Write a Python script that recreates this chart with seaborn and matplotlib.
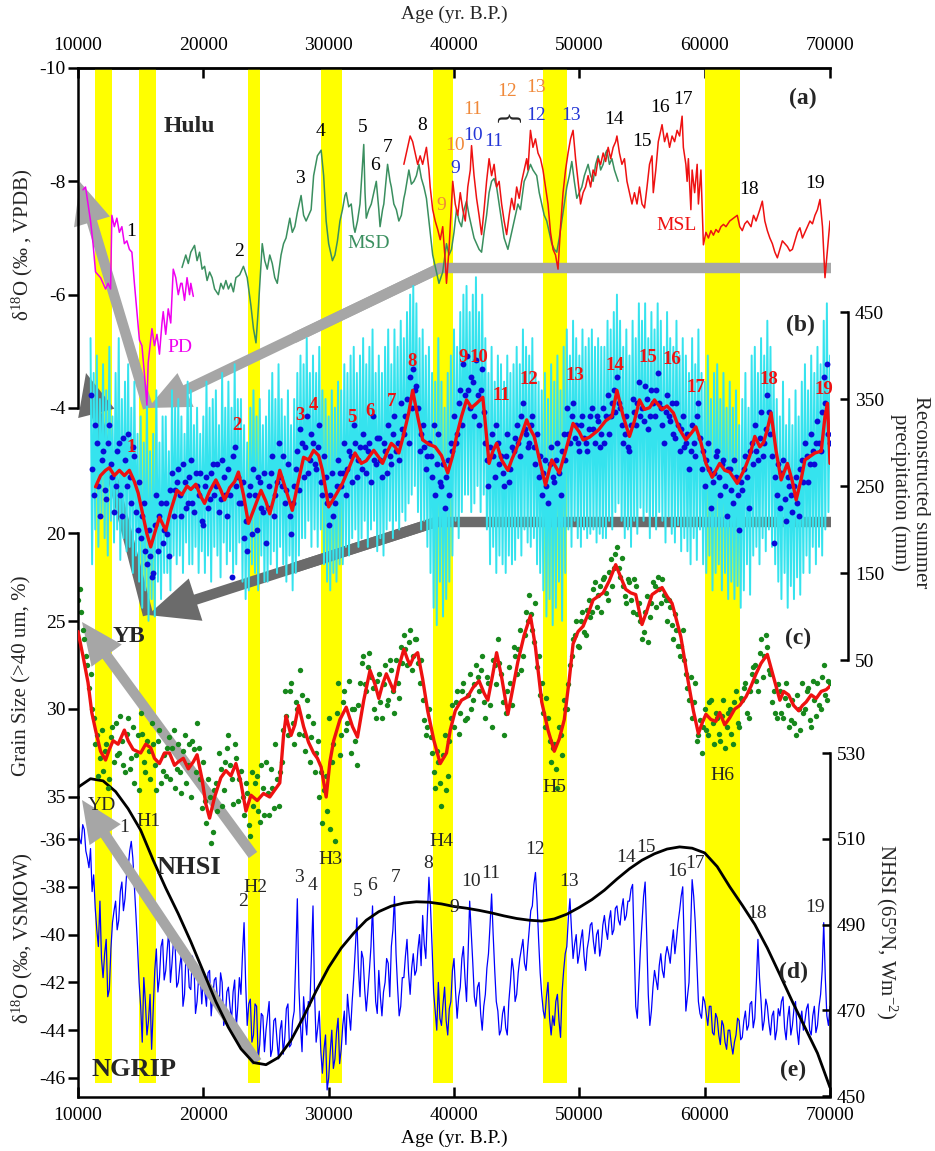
import numpy as np
import pandas as pd
import matplotlib
matplotlib.use("Agg")
import matplotlib.pyplot as plt
import seaborn as sns
from matplotlib.patches import FancyArrowPatch, ArrowStyle
from matplotlib.lines import Line2D

# ---------------------------------------------------------------- data
x_ticks = [10000, 20000, 30000, 40000, 50000, 60000, 70000]
band_start = [11360, 14850, 23570, 29400, 38300, 47100, 60020]
band_end = [12720, 16200, 24540, 31050, 39930, 49050, 62820]

# (a) Hulu speleothem d18O (age, permil VPDB)
pd_curve = [(10400,-7.85),(10600,-7.9),(10800,-7.6),(11000,-7.3),(11200,-6.9),(11400,-6.4),(11600,-6.35),
    (11800,-6.3),(12000,-6.2),(12200,-6.1),(12400,-6.2),(12600,-6.1),(12700,-7.4),(12900,-7.2),(13100,-7.35),
    (13300,-7.1),(13500,-7.2),(13700,-6.9),(13900,-6.95),(14100,-6.8),(14300,-6.75),(14500,-6.2),(14700,-5.7),
    (14900,-5.2),(15100,-5.1),(15300,-4.6),(15500,-4.05),(15600,-4.8),(15800,-5.2),(15900,-5.4),(16100,-5.1),
    (16300,-5.3),(16500,-4.95),(16700,-5.5),(16800,-5.7),(17000,-5.3),(17200,-5.75),(17400,-5.5),(17600,-6.45),
    (17800,-6.3),(18000,-6.0),(18200,-6.2),(18300,-6.2),(18500,-5.9),(18700,-6.3),(18900,-6.0),(19000,-6.2),(19200,-5.97)]
msd_curve = [(18300,-6.48),(18600,-6.7),(18800,-6.55),(19000,-6.75),(19300,-6.87),(19500,-6.6),(19700,-6.75),
    (19900,-6.45),(20100,-6.5),(20300,-6.25),(20500,-6.4),(20700,-6.3),(20900,-6.1),(21200,-6.0),(21400,-6.2),
    (21600,-6.1),(21800,-6.25),(22000,-6.1),(22200,-6.2),(22400,-6.05),(22600,-6.3),(22900,-6.35),(23200,-6.5),
    (23500,-6.3),(23800,-5.8),(24000,-5.4),(24200,-5.15),(24400,-5.8),(24700,-6.9),(24900,-6.6),(25100,-6.45),
    (25300,-6.7),(25500,-6.55),(25700,-6.3),(25900,-6.2),(26200,-6.7),(26400,-6.9),(26600,-7.0),(26900,-7.35),
    (27100,-7.1),(27300,-7.2),(27500,-7.45),(27800,-7.75),(28000,-7.4),(28200,-7.3),(28400,-7.4),(28600,-7.5),
    (28800,-8.1),(29100,-8.45),(29400,-8.55),(29600,-8.1),(29800,-7.3),(30000,-6.9),(30300,-6.6),(30500,-6.7),
    (30700,-6.95),(30900,-7.3),(31100,-7.5),(31300,-7.75),(31400,-7.8),(31600,-7.55),(31800,-7.6),(32000,-7.2),
    (32100,-7.1),(32300,-7.3),(32500,-7.6),(32800,-8.65),(32900,-7.8),(33000,-7.35),(33200,-7.5),(33400,-7.6),
    (33600,-7.8),(33800,-8.0),(34000,-7.5),(34100,-7.2),(34300,-7.5),(34400,-7.6),(34700,-8.3),(34900,-8.0),
    (35000,-7.9),(35200,-7.6),(35400,-7.5),(35600,-7.3),(35800,-7.4),(36000,-7.7),(36100,-7.8),(36400,-8.2),
    (36600,-7.95),(36800,-8.0),(37000,-8.1),(37200,-8.3),(37400,-8.05),(37600,-7.9),(37800,-7.7),(38000,-7.3),
    (38300,-6.7),(38600,-6.4),(38800,-6.2),(39100,-6.4),(39400,-6.9),(39600,-6.7),(39800,-6.8),(40000,-7.1),
    (40200,-7.5),(40400,-7.3),(40600,-7.2),(40800,-7.5),(41000,-7.65),(41200,-7.4),(41400,-7.2),(41600,-7.0),
    (41800,-6.9),(42000,-6.8),(42200,-6.75),(42400,-7.1),(42600,-7.4),(42800,-7.8),(43000,-8.0),(43200,-8.05),
    (43400,-7.9),(43600,-7.6),(43800,-7.3),(44000,-7.0),(44300,-6.8),(44500,-7.0),(44700,-7.2),(44900,-7.4),
    (45100,-7.6),(45300,-7.5),(45600,-8.0),(45800,-8.1),(46100,-8.3),(46300,-8.2),(46600,-8.1),(46800,-7.8),
    (47000,-7.6),(47200,-7.4),(47400,-7.3),(47600,-7.1),(47800,-6.9),(48000,-6.8),(48200,-6.75),(48400,-7.0),
    (48600,-7.3),(48800,-7.6),(49000,-7.9),(49200,-8.1),(49400,-8.35),(49600,-8.0),(49800,-7.7),(50000,-7.8),
    (50200,-7.9),(50400,-8.1),(50700,-8.3),(50900,-8.1),(51100,-8.0),(51300,-8.3),(51500,-8.45),(51700,-8.2),
    (51900,-8.3),(52100,-8.5),(52200,-8.55),(52400,-8.3),(52600,-8.4),(52800,-8.2),(53100,-8.0)]
msl_curve = [(36000,-8.3),(36200,-8.5),(36500,-8.8),(36700,-8.7),(36900,-8.5),(37100,-8.3),(37300,-8.45),
    (37500,-8.3),(37800,-8.6),(38000,-8.2),(38100,-7.9),(38300,-7.5),(38500,-7.3),(38700,-7.15),(38900,-6.97),
    (39100,-7.2),(39300,-6.6),(39400,-6.2),(39600,-6.8),(39800,-7.6),(39900,-8.0),(40100,-7.6),(40300,-7.4),
    (40500,-7.8),(40700,-7.5),(40900,-7.3),(41100,-7.9),(41300,-8.2),(41400,-8.63),(41600,-8.1),(41800,-7.7),
    (42000,-7.4),(42200,-7.06),(42400,-7.5),(42600,-8.0),(42800,-8.4),(43000,-8.1),(43200,-8.3),(43400,-7.9),
    (43600,-8.0),(43800,-7.6),(44000,-7.3),(44200,-7.06),(44400,-7.4),(44600,-7.7),(44800,-7.5),(45000,-7.9),
    (45200,-7.7),(45400,-8.0),(45600,-8.2),(45800,-8.4),(45900,-8.2),(46100,-8.9),(46300,-8.6),(46500,-8.75),
    (46700,-8.5),(46900,-8.4),(47100,-8.2),(47300,-7.9),(47500,-7.6),(47700,-7.1),(47900,-6.8),(48100,-6.7),
    (48300,-6.45),(48500,-7.2),(48700,-7.8),(48900,-8.2),(49100,-8.5),(49300,-8.75),(49500,-8.9),(49700,-8.4),
    (49900,-8.0),(50100,-7.6),(50300,-7.8),(50500,-7.9),(50700,-8.1),(50900,-7.9),(51100,-8.2),(51300,-8.1),
    (51500,-8.4),(51700,-8.3),(51900,-8.5),(52100,-8.35),(52300,-8.6),(52500,-8.4),(52700,-8.6),(52900,-8.7),
    (53000,-8.8),(53200,-8.5),(53400,-8.3),(53600,-8.4),(53800,-8.0),(54000,-7.8),(54200,-7.6),(54400,-7.8),
    (54600,-7.6),(54800,-7.9),(55000,-7.6),(55200,-7.53),(55400,-7.9),(55600,-8.3),(55800,-8.45),(55900,-7.8),
    (56100,-8.2),(56300,-8.7),(56500,-8.9),(56600,-9.0),(56800,-8.7),(57000,-8.85),(57200,-8.6),(57400,-8.8),
    (57600,-8.7),(57800,-8.9),(58000,-8.8),(58200,-9.15),(58300,-8.6),(58500,-8.3),(58600,-8.0),(58700,-8.4),
    (58900,-7.5),(59000,-8.2),(59200,-7.8),(59400,-8.3),(59500,-7.6),(59700,-8.2),(59900,-6.88),(60100,-7.1),
    (60300,-7.0),(60500,-7.13),(60700,-7.05),(60900,-7.15),(61100,-7.1),(61300,-7.2),(61500,-7.24),(61700,-7.2),
    (62000,-7.3),(62300,-7.35),(62600,-7.4),(62800,-7.2),(63000,-7.13),(63200,-7.25),(63400,-7.3),(63700,-7.2),
    (63900,-7.4),(64100,-7.3),(64400,-7.5),(64600,-7.65),(64800,-7.3),(65000,-7.13),(65200,-7.0),(65400,-6.9),
    (65600,-6.75),(65800,-6.65),(66000,-6.8),(66200,-6.95),(66400,-6.9),(66600,-6.85),(66800,-6.77),(67000,-6.8),
    (67200,-6.95),(67400,-7.1),(67600,-7.18),(67800,-7.0),(68000,-7.1),(68200,-7.2),(68400,-7.3),(68600,-7.25),
    (68800,-7.4),(69000,-7.5),(69200,-7.68),(69400,-7.2),(69600,-6.3),(69800,-6.8),(70000,-7.3)]

# (b) reconstructed summer precipitation, mm (samples every 250 yr from 11000, second set offset by 125 yr)
prec_first, prec_step = 11000, 250
prec_dots = [355,240,300,215, 290,235,320,260, 250,300,215,280, 310,230,285,200, 190,230,160,170,
    150,240,215,185, 230,170,265,245, 270,215,255,230, 280,220,250,265, 205,260,235,275,
    250,220,280,240, 270,145,295,260, 230,190,175,250, 270,200,255,220, 185,250,285,240,
    300,250,230,275, 195,250,290,315, 260,330,280,300, 270,320,240,260, 205,265,230,280,
    250,300,270,285, 320,260,295,310, 265,300,330,275, 305,260,290,320, 275,330,300,345,
    310,350,375,385, 365,290,320,270, 300,260,240,310, 250,225,280,300, 330,310,360,390,
    400,340,370,395, 320,385,300,250, 310,260,300,285, 250,310,270,290, 320,285,345,310,
    300,330,275,260, 240,280,230,295, 255,300,240,310, 340,300,345,320, 290,330,300,315,
    340,300,325,310, 300,355,330,360, 375,340,300,330, 290,350,320,370, 340,365,315,360,
    330,380,340,300, 355,325,310,345, 290,330,300,270, 320,285,345,270, 250,300,225,265,
    290,240,280,215, 270,230,260,200, 245,285,225,300, 320,280,335,300, 355,310,185,240,
    225,280,210,250, 220,260,215,280, 300,255,310,275, 325,290,375,390, 300]
prec_dots2 = [270,320,250,280, 245,300,275,220, 290,240,305,250, 260,295,220,255, 215,175,200,145,
    205,175,230,200, 195,245,215,255, 240,275,225,260, 230,265,240,210, 250,225,265,240,
    275,235,260,215, 240,285,250,230, 255,210,240,195, 240,260,225,265, 225,265,215,255,
    260,285,245,215, 230,270,245,300, 295,265,310,275, 295,255,285,230, 240,215,250,265,
    265,240,290,255, 300,280,270,295, 290,255,280,305, 280,300,265,285, 310,290,280,315,
    330,300,340,360, 340,310,295,285, 285,320,275,255, 275,260,240,290, 300,345,320,355,
    360,375,330,355, 360,335,280,295, 285,320,275,265, 285,255,295,305, 300,330,315,295,
    320,295,310,285, 265,250,275,260, 280,265,290,280, 310,330,305,300, 320,305,290,330,
    315,330,295,340, 330,310,345,335, 345,320,310,295, 320,335,345,330, 325,350,330,345,
    360,345,320,335, 330,345,305,320, 315,295,310,290, 300,330,305,290, 280,270,255,285,
    260,275,250,270, 245,280,240,255, 270,260,290,275, 290,305,285,315, 335,285,260,275,
    265,235,260,240, 250,230,270,255, 285,275,290,300, 300,335,345,310]
prec_hi = [420,380,400,350, 390,360,410,330, 380,420,350,370, 390,340,370,310, 330,300,350,290,
    310,360,300,330, 330,290,360,340, 350,330,310,370, 360,320,340,310, 330,370,340,350,
    360,320,380,340, 370,340,390,350, 350,320,300,340, 360,330,350,320, 330,360,380,350,
    390,350,330,360, 320,350,380,400, 390,420,380,400, 380,410,360,350, 330,360,340,370,
    360,390,380,400, 410,380,400,420, 390,410,430,380, 400,380,410,430, 390,430,410,440,
    420,450,470,480, 460,420,430,400, 410,380,370,420, 370,340,380,400, 430,410,450,470,
    480,450,470,490, 450,470,420,380, 410,370,400,390, 370,400,380,390, 410,390,430,410,
    400,420,380,370, 360,380,350,390, 370,400,360,410, 430,400,440,420, 400,430,410,420,
    430,410,420,410, 410,440,430,450, 470,440,410,430, 400,440,420,460, 440,460,420,450,
    430,460,440,410, 450,420,410,440, 400,420,400,380, 420,390,430,380, 370,400,350,380,
    390,350,380,340, 370,340,360,320, 350,380,340,400, 410,380,420,400, 440,410,380,350,
    330,370,320,350, 320,360,330,370, 390,360,400,380, 410,390,440,460, 400]
prec_lo = [160,200,180,215, 190,170,210,185, 200,165,190,175, 180,150,170,140, 110,130,95,120,
    100,140,120,150, 150,130,170,160, 170,150,185,160, 160,180,150,175, 150,170,140,180,
    170,145,185,160, 175,150,160,185, 140,120,130,160, 150,130,170,140, 140,160,175,150,
    180,160,140,170, 130,150,170,190, 190,210,180,200, 180,200,160,140, 130,150,140,160,
    160,180,170,190, 200,180,190,210, 180,200,210,175, 190,170,200,210, 190,210,200,220,
    210,230,240,250, 220,200,210,180, 150,110,90,140, 100,120,140,170, 210,190,220,240,
    240,220,230,250, 220,240,200,160, 180,150,170,160, 150,170,160,165, 190,170,200,185,
    180,190,160,150, 130,100,120,90, 110,140,95,150, 200,180,210,190, 180,200,190,195,
    200,185,195,190, 190,210,200,220, 230,210,190,200, 180,210,195,225, 210,220,190,215,
    200,220,210,185, 215,195,185,205, 175,190,175,160, 190,165,200,160, 150,170,130,150,
    160,130,150,120, 140,120,135,110, 130,160,125,170, 180,160,190,175, 200,180,160,140,
    120,150,110,135, 120,145,125,150, 170,150,180,160, 180,170,200,220, 180]
prec_smooth = [(11400,249),(11800,262),(12200,268),(12500,271),(12900,262),(13300,268),(13700,262),(14100,268),
    (14500,255),(14800,242),(15200,215),(15500,195),(15800,180),(16200,200),(16500,214),(17000,199),(17400,222),
    (17900,245),(18300,240),(18700,250),(19000,246),(19400,252),(19800,238),(20100,230),(20500,244),(21000,257),
    (21400,245),(21700,234),(22100,248),(22500,255),(22800,266),(23200,240),(23600,207),(24000,222),(24600,245),
    (25000,232),(25300,218),(25700,240),(26100,268),(26600,245),(27100,222),(27500,250),(28000,283),(28400,280),
    (28800,291),(29200,285),(29500,268),(30000,226),(30500,238),(31100,253),(31600,270),(32100,288),(32600,276),
    (33000,279),(33600,291),(34000,283),(34300,276),(34700,290),(35000,299),(35300,295),(35600,288),(36000,310),
    (36400,335),(36700,360),(37100,330),(37500,303),(38000,298),(38500,295),(39000,285),(39500,265),(39900,285),
    (40200,307),(40600,330),(41000,349),(41400,340),(41800,345),(42300,352),(42800,276),(43100,290),(43400,299),
    (43800,280),(44300,268),(44600,280),(44900,290),(45300,305),(45800,326),(46100,315),(46400,307),(46900,275),
    (47300,251),(47800,280),(48400,265),(48900,290),(49500,322),(50000,312),(50300,303),(50800,306),(51500,314),
    (52100,325),(52600,330),(53000,360),(53500,330),(54000,307),(54400,325),(54800,349),(55200,338),(55600,340),
    (56000,349),(56200,345),(56600,338),(57000,342),(57500,334),(58000,315),(58500,303),(59000,312),(59300,318),
    (59700,300),(60100,276),(60600,260),(61200,276),(61600,268),(62000,266),(62600,253),(63200,270),(63600,285),
    (64000,307),(64400,295),(64700,300),(65000,315),(65300,334),(65700,290),(66100,257),(66600,276),(67000,255),
    (67300,234),(67700,258),(68000,280),(68400,284),(68800,288),(69300,290),(69600,330),(69800,345),(70000,276)]

# (c) grain size >40 um, % (every 250 yr from 10000, second set offset by 125 yr)
grain_first, grain_step = 10000, 250
grain_dots = [23.8,24.5,26.0,27.5, 28.0,30.5,31.5,32.8, 33.5,32.0,34.0,31.0, 30.8,32.5,31.8,33.6,
    30.5,32.8,34.2,31.5, 30.2,33.0,31.8,34.0, 32.0,34.6,31.2,33.5, 33.8,31.6,32.2,34.5,
    32.0,34.8,31.5,33.2, 35.0,32.3,30.8,34.0, 33.0,36.5,35.0,37.0, 34.2,32.5,35.5,33.0,
    31.5,34.0,32.0,35.2, 33.5,36.0,34.8,37.2, 35.5,33.8,36.4,34.5, 33.0,36.0,34.5,32.0,
    35.5,33.0,29.0,31.5, 28.5,32.0,30.0,27.8, 31.5,29.5,33.0,30.8, 32.5,35.0,36.5,33.8,
    30.5,33.0,37.5,28.5, 31.5,29.0,30.8,32.5, 30.0,33.2,28.5,27.0, 29.0,26.8,28.8,30.5,
    28.0,30.5,27.5,29.5, 27.8,30.2,28.5,26.5, 25.8,27.5,25.5,27.0, 26.0,28.5,29.5,31.5,
    30.0,32.5,34.5,33.0, 35.5,31.5,33.8,30.5, 31.0,29.0,30.2,28.5, 30.5,28.0,29.5,27.5,
    29.0,27.0,30.5,28.5, 31.0,27.5,26.0,28.0, 31.5,29.0,28.5,26.5, 28.0,25.5,27.0,24.5,
    23.5,25.5,24.0,27.0, 28.5,31.0,30.5,33.0, 32.0,34.5,31.5,29.5, 30.0,27.5,26.0,25.0,
    26.5,24.5,25.8,23.8, 24.5,22.8,23.5,24.5, 22.5,23.8,21.5,22.0, 20.8,22.5,23.0,24.0,
    22.8,24.5,23.0,24.0, 26.0,24.5,26.2,24.0, 23.0,22.5,24.0,23.5, 25.0,24.2,26.0,25.5,
    27.0,25.5,28.0,29.5, 30.5,28.5,31.5,32.5, 30.0,31.5,29.5,32.0, 30.5,31.8,29.5,31.0,
    30.0,32.0,29.0,31.0, 29.5,28.5,30.5,28.0, 27.5,29.0,26.0,27.0, 26.5,28.0,29.0,30.5,
    29.0,30.5,28.5,31.0, 29.5,31.5,30.0,28.5, 30.0,28.8,31.0,29.5, 28.5,30.0,27.5,29.5, 28.5]
grain_dots2 = [23.2,25.5,27.0,28.8, 30.0,32.0,33.8,31.2, 32.4,34.5,31.6,33.0, 32.6,30.4,33.2,31.4,
    33.4,31.0,32.6,34.6, 31.4,33.6,32.4,30.8, 33.2,31.8,34.2,32.6, 32.2,34.0,31.2,33.4,
    33.6,32.4,34.2,32.0, 31.8,33.6,32.2,35.6, 35.2,34.0,37.6,34.6, 35.8,33.4,34.6,32.2,
    33.2,35.4,32.8,34.0, 35.0,34.2,36.6,33.6, 34.2,35.8,33.2,36.0, 34.8,33.4,35.6,34.0,
    33.6,31.2,30.4,29.0, 30.8,29.6,31.4,29.2, 32.4,30.4,31.6,33.6, 31.8,33.6,34.6,35.8,
    36.8,32.0,30.2,32.6, 29.6,31.2,28.4,30.0, 31.8,29.8,27.4,28.6, 27.6,28.2,30.0,28.4,
    29.6,28.6,29.8,27.2, 29.0,27.2,29.4,27.4, 26.6,26.2,27.8,26.0, 27.4,27.2,30.6,31.0,
    31.6,33.6,32.4,34.2, 32.6,34.6,31.8,29.8, 29.6,31.4,29.0,30.6, 29.2,30.0,28.6,28.2,
    27.8,29.6,28.2,29.8, 27.2,28.6,27.4,29.6, 30.2,27.6,29.8,27.0, 26.6,27.8,25.8,25.0,
    24.6,26.2,27.6,29.2, 30.2,29.4,31.8,32.2, 33.4,31.0,32.6,30.0, 28.6,27.0,25.8,26.4,
    25.0,25.6,24.4,24.8, 23.2,24.2,23.0,22.6, 23.4,22.2,23.0,21.2, 22.0,21.4,23.6,22.6,
    23.8,22.6,24.6,25.0, 25.6,23.6,24.8,22.8, 24.2,23.2,22.6,23.8, 23.8,25.2,24.6,26.4,
    26.4,27.2,28.8,28.2, 29.6,31.8,30.6,31.0, 31.2,29.6,30.8,30.2, 31.4,30.4,32.2,30.2,
    31.4,29.6,30.8,29.4, 28.8,30.2,29.0,27.6, 28.4,26.8,28.2,25.8, 27.8,29.6,30.2,28.6,
    30.2,29.4,29.8,30.6, 30.8,29.2,31.2,30.2, 29.0,30.6,28.4,30.4, 29.8,28.2,29.2,28.4]
grain_smooth = [(10000,25.6),(10400,27.0),(10800,28.5),(11100,30.2),(11400,31.2),(11800,32.4),(12200,32.9),
    (12500,32.3),(12800,31.8),(13200,32.0),(13700,31.2),(14000,31.8),(14400,32.3),(15000,32.5),(15400,32.0),
    (15800,32.2),(16100,32.8),(16500,33.1),(16900,32.5),(17300,32.5),(17700,33.2),(18000,33.0),(18400,32.8),
    (18800,33.4),(19200,33.0),(19500,32.6),(19900,34.0),(20200,35.4),(20500,36.2),(20900,35.0),(21400,33.9),
    (21800,33.5),(22200,33.8),(22600,33.1),(23000,34.2),(23400,35.8),(23800,34.9),(24300,35.2),(24800,34.8),
    (25300,35.0),(25700,34.6),(26100,34.2),(26400,31.5),(26600,30.4),(27000,31.5),(27300,30.9),(27600,29.8),
    (28000,31.0),(28400,31.9),(28800,32.5),(29100,32.8),(29400,33.3),(29800,35.0),(30100,33.0),(30400,31.8),
    (30900,30.6),(31400,29.9),(31900,31.0),(32300,31.6),(32800,29.5),(33300,27.8),(33700,28.6),(34000,29.4),
    (34300,28.6),(34600,28.0),(34900,28.5),(35200,29.0),(35600,27.6),(36000,26.6),(36300,27.2),(36500,27.5),
    (36800,27.0),(37100,26.8),(37500,28.3),(37900,30.1),(38400,31.8),(38900,33.1),(39400,32.5),(39700,31.2),
    (40100,30.1),(40600,29.5),(41100,29.3),(41500,28.8),(42000,28.4),(42400,29.1),(42700,29.5),(43100,28.0),
    (43400,26.8),(43800,28.2),(44300,30.3),(44700,28.8),(45100,27.3),(45600,25.8),(46100,24.7),(46500,26.5),
    (47000,29.6),(47500,31.2),(48000,32.4),(48400,31.7),(48800,30.6),(49200,28.3),(49500,26.3),(49900,25.6),
    (50300,25.3),(50700,24.6),(51100,23.8),(51500,23.6),(51900,23.4),(52400,22.7),(52900,21.8),(53300,22.5),
    (53700,23.2),(54100,23.4),(54500,23.5),(55000,25.2),(55400,24.4),(55800,23.5),(56200,23.3),(56600,23.1),
    (57000,23.6),(57400,24.0),(57700,24.8),(58100,25.9),(58400,27.2),(58700,28.5),(59100,30.1),(59500,31.4),
    (59800,30.8),(60100,30.3),(60500,30.6),(60900,30.7),(61200,30.2),(61600,30.9),(62000,30.5),(62400,30.0),
    (62800,29.8),(63300,29.3),(63700,28.7),(64100,28.0),(64500,27.4),(65000,26.9),(65500,28.2),(66000,29.5),
    (66300,29.0),(66700,29.2),(67100,29.8),(67500,30.1),(67800,29.8),(68100,29.6),(68500,29.2),(68900,29.4),
    (69300,29.0),(69700,28.9),(70000,28.7)]

# (e) NGRIP d18O, permil VSMOW (every 250 yr from 10000, second set offset by 125 yr)
ngrip_first, ngrip_step = 10000, 250
ngrip = [-35.3,-36.2,-35.6,-36.8, -36.4,-37.5,-39.8,-38.6, -41.8,-40.2,-42.3,-39.5, -38.6,-39.4,-37.8,-38.5,
    -37.2,-36.1,-38.0,-40.5, -43.0,-41.8,-44.2,-42.5, -43.2,-40.6,-41.8,-40.2, -41.5,-39.8,-41.2,-40.5,
    -42.0,-40.8,-42.5,-41.0, -42.3,-41.2,-42.8,-41.6, -41.8,-43.0,-41.5,-42.6, -41.8,-43.2,-42.0,-43.5,
    -42.2,-43.6,-41.9,-43.0, -42.5,-39.5,-43.8,-42.7, -44.2,-43.0,-44.6,-43.4, -44.0,-42.8,-44.8,-43.5,
    -45.2,-43.6,-44.3,-42.9, -44.6,-43.2,-38.5,-43.8, -42.6,-44.2,-43.0,-38.8, -44.5,-43.2,-45.8,-44.2,
    -46.0,-44.0,-45.2,-43.5, -44.8,-43.2,-42.5,-44.0, -41.8,-39.3,-42.6,-41.0, -43.2,-41.5,-38.8,-42.8,
    -41.5,-43.4,-42.0,-41.2, -40.5,-38.4,-42.2,-43.0, -41.8,-40.2,-42.5,-40.8, -41.5,-40.0,-39.2,-41.0,
    -37.6,-40.5,-43.2,-42.0, -43.8,-42.2,-44.2,-42.8, -41.0,-43.5,-42.2,-40.5, -42.8,-38.6,-41.2,-43.0,
    -42.0,-44.0,-42.5,-40.8, -38.3,-41.5,-43.2,-44.0, -43.0,-44.2,-42.0,-41.5, -42.5,-41.0,-40.2,-41.5,
    -39.8,-38.8,-37.4,-40.2, -42.5,-43.5,-42.0,-44.2, -43.8,-42.5,-44.3,-41.5, -40.5,-38.5,-41.0,-40.0,
    -40.8,-39.8,-41.5,-40.2, -39.5,-40.8,-39.8,-40.5, -39.2,-40.2,-39.0,-39.8, -38.8,-39.6,-38.5,-39.2,
    -38.6,-37.9,-43.0,-42.0, -39.5,-37.8,-42.5,-43.2, -41.5,-42.3,-40.8,-41.8, -40.5,-41.2,-39.8,-40.2,
    -39.0,-38.0,-43.2,-42.0, -37.7,-39.5,-42.8,-43.5, -42.8,-43.8,-43.0,-44.2, -43.5,-44.6,-43.8,-44.8,
    -44.0,-45.0,-44.2,-43.6, -44.3,-43.2,-43.8,-42.8, -43.5,-40.2,-42.8,-43.6, -43.0,-44.2,-43.2,-44.0,
    -43.4,-42.6,-44.4,-43.0, -43.8,-42.8,-44.6,-43.2, -43.6,-42.9,-44.2,-43.0, -43.8,-42.5,-39.5,-43.4, -43.0]
ngrip2 = [-36.0,-35.4,-36.5,-37.2, -38.2,-38.9,-40.5,-41.0, -40.8,-42.6,-40.6,-39.0, -39.8,-38.2,-39.0,-37.5,
    -36.5,-36.8,-39.2,-42.0, -44.5,-42.8,-43.6,-44.8, -41.5,-42.4,-40.5,-41.9, -40.6,-42.0,-40.2,-42.2,
    -41.3,-43.0,-40.7,-42.2, -40.9,-43.3,-41.8,-42.9, -42.4,-41.6,-43.4,-41.9, -42.7,-41.6,-43.8,-42.4,
    -43.0,-42.4,-43.9,-41.8, -40.8,-42.0,-42.9,-44.5, -42.9,-45.2,-43.3,-44.9, -43.4,-45.1,-43.6,-44.4,
    -44.0,-45.0,-43.1,-44.7, -43.6,-41.0,-42.2,-44.9, -43.5,-42.8,-40.9,-42.5, -43.9,-44.9,-44.8,-46.5,
    -44.9,-45.6,-44.1,-45.4, -43.8,-44.6,-43.3,-42.8, -40.6,-41.4,-40.7,-42.3, -42.4,-40.5,-41.0,-43.3,
    -42.6,-42.4,-41.0,-42.6, -39.8,-40.8,-43.4,-41.8, -40.9,-41.6,-41.4,-41.7, -40.6,-41.3,-40.4,-39.2,
    -38.8,-42.4,-44.0,-43.5, -42.9,-43.6,-43.1,-41.5, -42.4,-42.6,-41.0,-41.8, -40.8,-39.9,-42.6,-42.2,
    -43.3,-43.0,-41.4,-39.6, -40.0,-42.8,-44.2,-43.3, -43.9,-42.8,-41.0,-42.8, -41.6,-40.6,-41.2,-40.6,
    -39.0,-37.9,-38.6,-41.6, -43.2,-42.6,-43.5,-43.4, -42.8,-43.6,-42.4,-40.8, -39.3,-39.8,-40.4,-41.2,
    -40.2,-40.9,-40.6,-39.6, -40.3,-40.0,-40.9,-39.6, -39.8,-39.4,-40.0,-38.9, -39.4,-38.9,-39.4,-38.6,
    -38.1,-40.5,-43.5,-40.6, -38.4,-40.0,-43.8,-42.2, -41.9,-41.3,-41.5,-40.9, -40.8,-40.4,-40.8,-39.5,
    -38.4,-40.6,-42.6,-39.8, -38.4,-41.2,-43.3,-42.6, -43.3,-43.0,-44.1,-43.3, -44.2,-43.6,-44.5,-44.0,
    -44.6,-44.5,-43.5,-44.4, -43.6,-44.0,-42.9,-43.9, -42.0,-41.8,-44.0,-42.7, -43.7,-43.4,-44.4,-43.1,
    -42.8,-43.9,-43.5,-44.2, -43.1,-44.0,-43.6,-44.0, -43.1,-44.0,-43.4,-44.1, -43.0,-41.5,-41.8,-43.8]

# (d) NHSI 65N, W m-2
nhsi_age = list(range(10000, 70001, 1000))
nhsi_val = [522,524,523.5,521,517,512,505,498.5,492.5,486,479,472,466,461,457.8,457.3,459,463,468.5,474.5,
    480,484.5,488,491,493,494.3,495,495.3,495.2,494.8,494.2,493.8,493.3,492.7,492,491.4,491,490.8,491.3,
    492.4,494,495.8,498,500.6,503,505,506.5,507.6,508.1,507.8,506.7,503.5,498.8,494.5,490,484.5,478.3,472,
    466,460,452]

# ---------------------------------------------------------------- style
sns.set_theme(style="white")
plt.rcParams['font.family'] = ['Liberation Serif', 'DejaVu Serif']
plt.rcParams['mathtext.fontset'] = 'custom'
plt.rcParams['mathtext.rm'] = 'Liberation Serif'
plt.rcParams['mathtext.it'] = 'Liberation Serif:italic'
plt.rcParams['axes.unicode_minus'] = False

YEL, LGRAY, DGRAY = '#ffff00', '#a6a6a6', '#6b6b6b'
MAG, SEA, RED = '#f000f0', '#3a8f5f', '#ee1111'
CYAN, BLUE, GREEN = '#35e3ee', '#0a0ad8', '#17881c'
ORG, BLU_T = '#f0893a', '#2436d6'

W, H = 935, 1151
L, R, T, B = 78, 830, 68, 1097
fig = plt.figure(figsize=(W / 100, H / 100), dpi=100)
rect = [L / W, 1 - B / H, (R - L) / W, (B - T) / H]


def fx(x):
    return x / W


def fy(y):
    return 1 - y / H


def ylim_from(v1, p1, v2, p2):
    k = (v2 - v1) / (p2 - p1)
    return v1 + (B - p1) * k, v1 + (T - p1) * k


def unzip(pairs):
    return [p[0] for p in pairs], [p[1] for p in pairs]


def grid_ages(first, step, n, offset=0):
    return [first + offset + step * i for i in range(n)]


def merge(a1, v1, a2, v2):
    pairs = sorted(zip(list(a1) + list(a2), list(v1) + list(v2)))
    return unzip(pairs)


# frame axes: x axis, bands, arrows
ax0 = fig.add_axes(rect)
ax0.set_facecolor('white')
ax0.grid(False)
ax0.set_xlim(10000, 70000)
ax0.set_ylim(0, 1)
ax0.set_yticks([])
for s in ['left', 'right']:
    ax0.spines[s].set_visible(False)
for s in ['top', 'bottom']:
    ax0.spines[s].set_linewidth(1.8)
    ax0.spines[s].set_color('black')
ax0.set_xticks(x_ticks)
ax0.set_xticklabels([str(v) for v in x_ticks])
ax0.tick_params(axis='x', direction='in', length=7, width=1.8, labelsize=14, pad=7,
                bottom=True, top=False, colors='black')
ax0.set_xlabel('Age (yr. B.P.)', fontsize=14, labelpad=4, color='black')
topx = ax0.secondary_xaxis('top')
topx.set_xticks(x_ticks)
topx.set_xticklabels([str(v) for v in x_ticks])
topx.tick_params(direction='in', length=7, width=1.8, labelsize=14, pad=10, colors='black')
topx.spines['top'].set_linewidth(1.8)
topx.set_xlabel('Age (yr. B.P.)', fontsize=14, labelpad=13)

for s0, e0 in zip(band_start, band_end):
    ax0.axvspan(s0, e0, ymin=(B - 1083) / (B - T), ymax=1, color=YEL, lw=0, zorder=0.5)


def draw_arrow(ax, pts, color, z, tail=7.5, hw=27, hl=30):
    P = [(fx(x), fy(y)) for x, y in pts]
    if len(P) > 2:
        mid = ((P[-2][0] + P[-1][0]) / 2, (P[-2][1] + P[-1][1]) / 2)
        seg = P[:-1] + [mid]
        ln = Line2D([p[0] for p in seg], [p[1] for p in seg], transform=fig.transFigure, color=color,
                    lw=tail, solid_capstyle='butt', solid_joinstyle='miter', zorder=z, clip_on=False)
        ax.add_artist(ln)
    st = ArrowStyle('simple', head_length=hl, head_width=hw, tail_width=tail)
    ar = FancyArrowPatch(P[-2], P[-1], transform=fig.transFigure, arrowstyle=st, mutation_scale=1,
                         color=color, lw=0, shrinkA=0, shrinkB=0, zorder=z, clip_on=False)
    ax.add_artist(ar)


draw_arrow(ax0, [(831, 268), (440, 268), (148, 408)], LGRAY, 1)
draw_arrow(ax0, [(148, 408), (80, 182)], LGRAY, 1)
draw_arrow(ax0, [(831, 522), (436, 522), (148, 615)], DGRAY, 1, hw=32, hl=36)
draw_arrow(ax0, [(148, 615), (86, 373)], DGRAY, 1)
draw_arrow(ax0, [(253, 855), (82, 622)], LGRAY, 1)


def panel(label):
    ax = fig.add_axes(rect, sharex=ax0, label=label)
    ax.patch.set_visible(False)
    ax.grid(False)
    for s in ax.spines.values():
        s.set_visible(False)
        s.set_color('black')
        s.set_linewidth(1.8)
    ax.tick_params(axis='x', bottom=False, labelbottom=False, top=False, labeltop=False)
    return ax


# (e) NGRIP
axe = panel('e')
ng_a, ng_v = merge(grid_ages(ngrip_first, ngrip_step, len(ngrip)), ngrip,
                   grid_ages(ngrip_first, ngrip_step, len(ngrip2), 125), ngrip2)
sns.lineplot(x=ng_a, y=ng_v, ax=axe, color='#0000ff', lw=0.9, estimator=None, sort=False, zorder=2)
draw_arrow(axe, [(257, 1062), (82, 800)], LGRAY, 3)
axe.set_ylim(*ylim_from(-36, 839, -46, 1078))
axe.spines['left'].set_visible(True)
axe.spines['left'].set_bounds(-46.8, -34.25)
axe.set_yticks([-36, -38, -40, -42, -44, -46])
axe.set_yticklabels(['-36', '-38', '-40', '-42', '-44', '-46'])
axe.tick_params(axis='y', left=True, labelleft=True, right=False, labelright=False, direction='out',
                length=7, width=1.8, labelsize=14, pad=2, colors='black')

# (d) NHSI
axd = panel('d')
sns.lineplot(x=nhsi_age, y=nhsi_val, ax=axd, color='black', lw=2.0, estimator=None, sort=False, zorder=3)
axd.set_ylim(*ylim_from(530, 753, 450, 1096))
axd.spines['right'].set_visible(True)
axd.spines['right'].set_bounds(450, 530)
axd.yaxis.tick_right()
axd.set_yticks([450, 470, 490, 510, 530])
axd.tick_params(axis='y', right=True, labelright=True, left=False, labelleft=False, direction='in',
                length=6, width=1.8, labelsize=14, pad=5, colors='black')

# (c) grain size
axc = panel('c')
sns.scatterplot(x=grid_ages(grain_first, grain_step, len(grain_dots)), y=grain_dots, ax=axc,
                color=GREEN, s=15, linewidth=0, zorder=2)
sns.scatterplot(x=grid_ages(grain_first, grain_step, len(grain_dots2), 125), y=grain_dots2, ax=axc,
                color=GREEN, s=15, linewidth=0, zorder=2)
ga, gv = unzip(grain_smooth)
sns.lineplot(x=ga, y=gv, ax=axc, color=RED, lw=2.4, estimator=None, sort=False, zorder=3)
axc.set_ylim(*ylim_from(20, 533, 35, 797))
axc.spines['left'].set_visible(True)
axc.spines['left'].set_bounds(20, 35)
axc.set_yticks([20, 25, 30, 35])
axc.tick_params(axis='y', left=True, labelleft=True, right=False, labelright=False, direction='out',
                length=7, width=1.8, labelsize=14, pad=2, colors='black')

# (b) precipitation
axb = panel('b')
n_hl = min(len(prec_hi), len(prec_lo))
cy_a, cy_v = merge(grid_ages(prec_first, prec_step, n_hl), prec_hi[:n_hl],
                   grid_ages(prec_first, prec_step, n_hl, 125), prec_lo[:n_hl])
sns.lineplot(x=cy_a, y=cy_v, ax=axb, color=CYAN, lw=1.4, estimator=None, sort=False, zorder=1)
sns.scatterplot(x=grid_ages(prec_first, prec_step, len(prec_dots)), y=prec_dots, ax=axb,
                color=BLUE, s=18, linewidth=0, zorder=2)
sns.scatterplot(x=grid_ages(prec_first, prec_step, len(prec_dots2), 125), y=prec_dots2, ax=axb,
                color=BLUE, s=18, linewidth=0, zorder=2)
pa, pv = unzip(prec_smooth)
sns.lineplot(x=pa, y=pv, ax=axb, color=RED, lw=2.4, estimator=None, sort=False, zorder=3)
axb.set_ylim(*ylim_from(450, 312, 50, 660))
axb.spines['right'].set_visible(True)
axb.spines['right'].set_position(('outward', 13))
axb.spines['right'].set_bounds(50, 450)
axb.yaxis.tick_right()
axb.set_yticks([50, 150, 250, 350, 450])
axb.tick_params(axis='y', right=True, labelright=True, left=False, labelleft=False, direction='in',
                length=6, width=1.8, labelsize=14, pad=5, colors='black')

# (a) Hulu
axa = panel('a')
for curve, col in [(pd_curve, MAG), (msd_curve, SEA), (msl_curve, RED)]:
    ca, cv = unzip(curve)
    sns.lineplot(x=ca, y=cv, ax=axa, color=col, lw=1.1, estimator=None, sort=False, zorder=2)
axa.set_ylim(*ylim_from(-10, 68, -4, 408))
axa.spines['left'].set_visible(True)
axa.spines['left'].set_bounds(-10, -4)
axa.set_yticks([-10, -8, -6, -4])
axa.set_yticklabels(['-10', '-8', '-6', '-4'])
axa.tick_params(axis='y', left=True, labelleft=True, right=False, labelright=False, direction='out',
                length=7, width=1.8, labelsize=14, pad=2, colors='black')

for ax in [axa, axb, axc, axd, axe]:
    ax.set_xlabel('')
    ax.set_ylabel('')
    ax.set_xlim(10000, 70000)

# ---------------------------------------------------------------- texts


def T_(x, y, s, **kw):
    kw.setdefault('ha', 'center')
    kw.setdefault('va', 'center')
    fig.text(fx(x), fy(y), s, **kw)


# axis titles
T_(22, 245, 'δ$^{\\mathrm{18}}$O (‰ , VPDB)', rotation=90, fontsize=15)
T_(22, 676, 'Grain Size (>40 um, %)', rotation=90, fontsize=15)
T_(22, 938, 'δ$^{\\mathrm{18}}$O (‰, VSMOW)', rotation=90, fontsize=15)
T_(910, 492, 'Reconstructed summer\nprecipitation (mm)', rotation=-90, fontsize=15, linespacing=1.1)
T_(887, 932, 'NHSI (65$^{\\mathrm{o}}$N, Wm$^{\\mathrm{-2}}$)', rotation=-90, fontsize=15)

# panel letters and record names
for s, x, y in [('(a)', 803, 98), ('(b)', 800, 325), ('(c)', 798, 638), ('(d)', 793, 972), ('(e)', 793, 1070)]:
    T_(x, y, s, fontsize=17, fontweight='bold')
for s, x, y, fs in [('Hulu', 189, 127, 17), ('YB', 129, 637, 17), ('NHSI', 189, 868, 19), ('NGRIP', 134, 1070, 19)]:
    T_(x, y, s, fontsize=fs, fontweight='bold')
T_(180, 348, 'PD', color=MAG, fontsize=14)
T_(369, 243, 'MSD', color=SEA, fontsize=14)
T_(677, 225, 'MSL', color=RED, fontsize=14)

K = 'black'
labels_a = [(131, 231, '1', K), (239, 251, '2', K), (300, 178, '3', K), (320, 131, '4', K), (363, 128, '5', K),
            (375, 166, '6', K), (388, 148, '7', K), (422, 126, '8', K), (441, 205, '9', ORG), (455, 145, '10', ORG),
            (455, 168, '9', BLU_T), (473, 135, '10', BLU_T), (473, 110, '11', ORG), (494, 141, '11', BLU_T),
            (507, 91, '12', ORG), (536, 88, '13', ORG), (536, 115, '12', BLU_T), (571, 115, '13', BLU_T),
            (614, 120, '14', K), (642, 141, '15', K), (660, 108, '16', K), (683, 100, '17', K),
            (749, 190, '18', K), (815, 183, '19', K)]
for x, y, s, c in labels_a:
    T_(x, y, s, color=c, fontsize=14)
T_(505, 120, '{', rotation=-90, fontsize=20)

labels_b = [(131, 447, '1'), (237, 425, '2'), (300, 415, '3'), (313, 405, '4'), (352, 417, '5'), (370, 412, '6'),
            (392, 402, '7'), (412, 362, '8'), (463, 357, '9'), (479, 358, '10'), (501, 395, '11'), (529, 380, '12'),
            (575, 375, '13'), (615, 365, '14'), (648, 358, '15'), (672, 360, '16'), (696, 387, '17'),
            (769, 380, '18'), (824, 390, '19')]
for x, y, s in labels_b:
    T_(x, y, s, color=RED, fontsize=13.5, fontweight='bold')

labels_h = [(102, 805, 'YD'), (148, 822, 'H1'), (255, 887, 'H2'), (330, 860, 'H3'), (441, 842, 'H4'),
            (554, 788, 'H5'), (722, 775, 'H6')]
for x, y, s in labels_h:
    T_(x, y, s, fontsize=14)

labels_e = [(124, 828, '1'), (243, 902, '2'), (299, 877, '3'), (312, 885, '4'), (358, 892, '5'), (372, 885, '6'),
            (396, 878, '7'), (428, 863, '8'), (454, 908, '9'), (471, 882, '10'), (491, 873, '11'), (535, 850, '12'),
            (569, 882, '13'), (626, 857, '14'), (646, 848, '15'), (677, 872, '16'), (695, 864, '17'),
            (757, 913, '18'), (815, 908, '19')]
for x, y, s in labels_e:
    T_(x, y, s, fontsize=14)

fig.savefig('out.png', dpi=100)
